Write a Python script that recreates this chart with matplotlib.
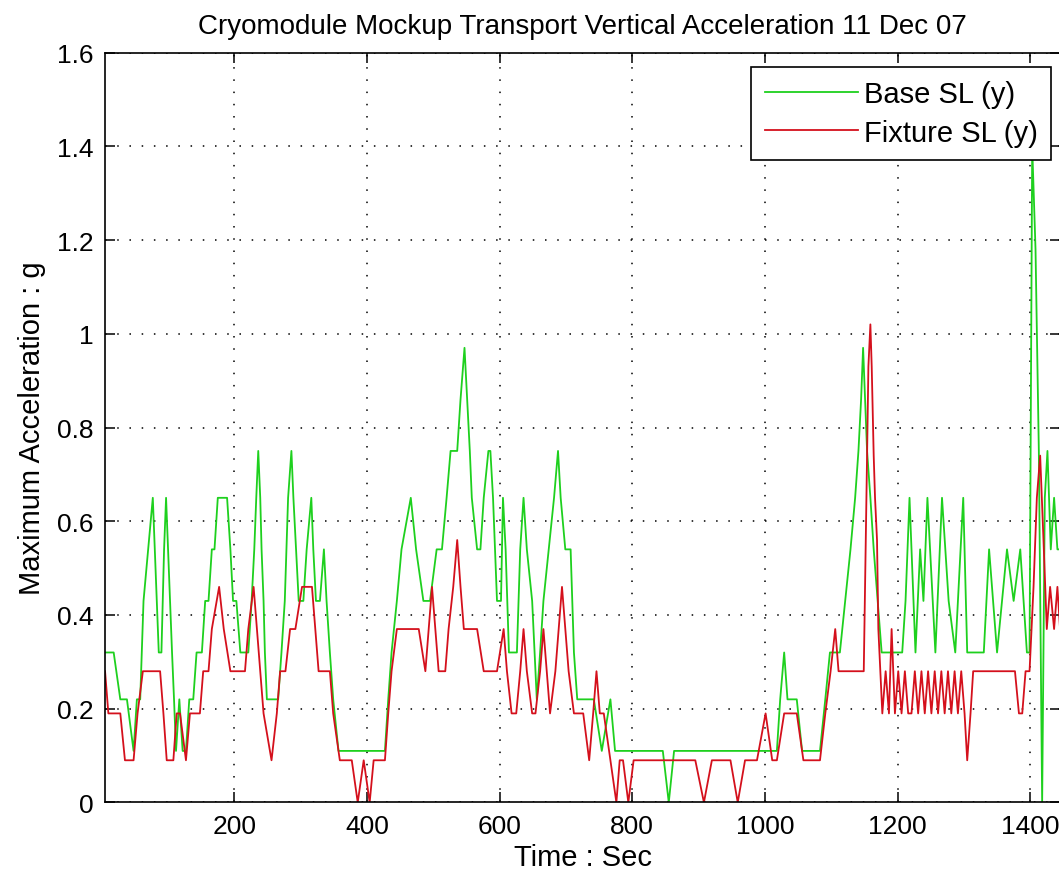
import matplotlib
matplotlib.use("Agg")
import matplotlib.pyplot as plt
from matplotlib.ticker import FormatStrFormatter

# Base SL (y) peak acceleration, breakpoints (time s, g)
base_t = [5, 18, 28, 38, 48, 53, 58, 63, 70, 77, 80, 83, 86, 90, 94, 97, 100, 103, 106, 109,
          112, 117, 122, 127, 132, 138, 143, 151, 156, 161, 166, 170, 175, 189, 194, 198, 203,
          209, 221, 226, 230, 233, 236, 239, 241, 244, 246, 249, 266, 271, 276, 281, 286, 289,
          293, 297, 304, 309, 316, 319, 323, 329, 335, 339, 344, 349, 357,
          427, 432, 437, 445, 452, 466, 474, 485, 495, 505, 513, 520, 526, 536, 541, 547, 551,
          555, 558, 566, 571, 576, 583, 586, 590, 593, 596, 602, 605, 609, 614, 626, 631, 636,
          641, 649, 656, 661, 666, 674, 682, 688, 692, 699, 707, 712, 717,
          742, 754, 767, 774, 846, 855, 863, 1018, 1023, 1029, 1034, 1048, 1056, 1083,
          1091, 1098, 1113, 1121, 1129, 1136, 1141, 1145, 1148, 1151, 1154, 1159, 1164, 1170,
          1176, 1207, 1212, 1218, 1227, 1234, 1239, 1245, 1257, 1267, 1277, 1287, 1299, 1305,
          1330, 1338, 1350, 1365, 1375, 1385, 1395, 1399, 1403, 1408, 1413, 1418, 1422, 1426,
          1431, 1436, 1441, 1445]
base_g = [0.32, 0.32, 0.22, 0.22, 0.11, 0.22, 0.22, 0.43, 0.54, 0.65, 0.54, 0.43, 0.32, 0.32,
          0.54, 0.65, 0.54, 0.43, 0.32, 0.22, 0.11, 0.22, 0.11, 0.11, 0.22, 0.22, 0.32, 0.32,
          0.43, 0.43, 0.54, 0.54, 0.65, 0.65, 0.54, 0.43, 0.43, 0.32, 0.32, 0.43, 0.54, 0.65,
          0.75, 0.65, 0.54, 0.43, 0.32, 0.22, 0.22, 0.32, 0.43, 0.65, 0.75, 0.65, 0.54, 0.43,
          0.43, 0.54, 0.65, 0.54, 0.43, 0.43, 0.54, 0.43, 0.32, 0.22, 0.11,
          0.11, 0.22, 0.32, 0.43, 0.54, 0.65, 0.54, 0.43, 0.43, 0.54, 0.54, 0.65, 0.75, 0.75,
          0.86, 0.97, 0.86, 0.75, 0.65, 0.54, 0.54, 0.65, 0.75, 0.75, 0.65, 0.54, 0.43, 0.43,
          0.65, 0.54, 0.32, 0.32, 0.54, 0.65, 0.54, 0.43, 0.22, 0.32, 0.43, 0.54, 0.65, 0.75,
          0.65, 0.54, 0.54, 0.32, 0.22,
          0.22, 0.11, 0.22, 0.11, 0.11, 0.0, 0.11, 0.11, 0.22, 0.32, 0.22, 0.22, 0.11, 0.11,
          0.22, 0.32, 0.32, 0.43, 0.54, 0.65, 0.75, 0.86, 0.97, 0.86, 0.75, 0.65, 0.54, 0.43,
          0.32, 0.32, 0.43, 0.65, 0.32, 0.54, 0.43, 0.65, 0.32, 0.65, 0.43, 0.32, 0.65, 0.32,
          0.32, 0.54, 0.32, 0.54, 0.43, 0.54, 0.32, 0.32, 1.40, 1.18, 0.75, 0.0, 0.65, 0.75,
          0.54, 0.65, 0.54, 0.54]

# Fixture SL (y) peak acceleration, breakpoints (time s, g)
fix_t = [5, 10, 28, 35, 48, 54, 62, 88, 93, 98, 108, 113, 118, 127, 133, 148, 153, 161, 166,
         177, 184, 194, 216, 221, 229, 234, 239, 244, 256, 264, 269, 277, 284, 292, 302, 317,
         322, 327, 344, 349, 359,
         362, 377, 386, 395, 404, 410, 427, 432, 437, 445, 478, 488, 498, 503, 508, 518, 523,
         530, 536, 541, 546, 566, 576, 596, 606, 611, 618, 625, 631, 636, 641, 649, 654, 661,
         666, 671, 676, 684, 689, 694, 699, 704, 712, 726,
         735, 741, 746, 751, 757, 767, 776, 781, 786, 794, 802, 895, 908, 920, 948, 959, 970,
         988, 1001, 1011, 1018, 1029, 1048, 1058, 1078,
         1083, 1091, 1099, 1106, 1111, 1149, 1151, 1154, 1156, 1159, 1161, 1164, 1166, 1169,
         1171, 1174, 1177, 1182, 1187, 1191, 1196, 1201, 1206, 1211, 1216, 1221, 1226, 1231,
         1236, 1241, 1246, 1251, 1256, 1261, 1266, 1271, 1276, 1281, 1286, 1291, 1296, 1301,
         1305, 1310, 1314, 1377, 1383, 1388, 1393, 1399, 1405, 1410, 1415, 1420, 1425, 1430,
         1436, 1441, 1445]
fix_g = [0.28, 0.19, 0.19, 0.09, 0.09, 0.19, 0.28, 0.28, 0.19, 0.09, 0.09, 0.19, 0.19, 0.09,
         0.19, 0.19, 0.28, 0.28, 0.37, 0.46, 0.37, 0.28, 0.28, 0.37, 0.46, 0.37, 0.28, 0.19,
         0.09, 0.19, 0.28, 0.28, 0.37, 0.37, 0.46, 0.46, 0.37, 0.28, 0.28, 0.19, 0.09,
         0.09, 0.09, 0.0, 0.09, 0.0, 0.09, 0.09, 0.19, 0.28, 0.37, 0.37, 0.28, 0.46, 0.37,
         0.28, 0.28, 0.37, 0.46, 0.56, 0.46, 0.37, 0.37, 0.28, 0.28, 0.37, 0.28, 0.19, 0.19,
         0.28, 0.37, 0.28, 0.19, 0.19, 0.28, 0.37, 0.28, 0.19, 0.28, 0.37, 0.46, 0.37, 0.28,
         0.19, 0.19,
         0.09, 0.19, 0.28, 0.19, 0.19, 0.09, 0.0, 0.09, 0.09, 0.0, 0.09, 0.09, 0.0, 0.09, 0.09,
         0.0, 0.09, 0.09, 0.19, 0.09, 0.09, 0.19, 0.19, 0.09, 0.09,
         0.09, 0.19, 0.28, 0.37, 0.28, 0.28, 0.46, 0.74, 0.93, 1.02, 0.93, 0.74, 0.65, 0.56,
         0.37, 0.28, 0.19, 0.28, 0.19, 0.37, 0.19, 0.28, 0.19, 0.28, 0.19, 0.19, 0.28, 0.19,
         0.28, 0.19, 0.28, 0.19, 0.28, 0.19, 0.28, 0.19, 0.28, 0.19, 0.28, 0.19, 0.28, 0.19,
         0.09, 0.19, 0.28, 0.28, 0.19, 0.19, 0.28, 0.28, 0.46, 0.65, 0.74, 0.56, 0.37, 0.46,
         0.37, 0.46, 0.37]

plt.rcParams["font.family"] = ["Liberation Sans", "DejaVu Sans"]

fig = plt.figure(figsize=(10.59, 8.78), dpi=100)
ax = fig.add_axes([0.0992, 0.0849, 0.9018, 0.8541])

ax.plot(base_t, base_g, color="#1ed01e", lw=1.3, label="Base SL (y)")
ax.plot(fix_t, fix_g, color="#d4101c", lw=1.3, label="Fixture SL (y)")

ax.set_xlim(5, 1445)
ax.set_ylim(0, 1.6)
ax.set_xticks([200, 400, 600, 800, 1000, 1200, 1400])
ax.set_yticks([0, 0.2, 0.4, 0.6, 0.8, 1.0, 1.2, 1.4, 1.6])
ax.yaxis.set_major_formatter(FormatStrFormatter("%g"))
ax.tick_params(direction="in", length=7, width=1.1, top=True, right=True,
               labelsize=19, pad=8)
ax.grid(True, color="black", linestyle=(0, (1, 7)), linewidth=1.1)
for s in ax.spines.values():
    s.set_linewidth(1.2)

ax.set_title("Cryomodule Mockup Transport Vertical Acceleration 11 Dec 07",
             fontsize=20, pad=14)
ax.set_xlabel("Time : Sec", fontsize=21, labelpad=4)
ax.set_ylabel("Maximum Acceleration : g", fontsize=21, labelpad=8)

leg = ax.legend(loc="upper right", bbox_to_anchor=(1050.7 / 1059, 1 - 68.3 / 878),
                bbox_transform=fig.transFigure, borderaxespad=0, fancybox=False,
                framealpha=1, edgecolor="black", fontsize=21, handlelength=3.2,
                handletextpad=0.2, labelspacing=0.35, borderpad=0.45)
leg.get_frame().set_linewidth(1.2)

fig.savefig("out.png", dpi=100)
